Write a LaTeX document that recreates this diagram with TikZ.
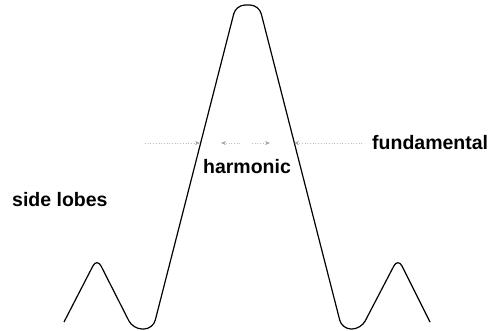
\documentclass[tikz,border=0pt]{standalone}
\usepackage{fontspec}
\setmainfont{Liberation Sans}
\usetikzlibrary{arrows.meta}
\begin{document}
\begin{tikzpicture}[x=1pt,y=-1pt,
  curve/.style={line width=1.2pt, rounded corners=9pt},
  lbl/.style={font=\fontsize{19.5}{22}\selectfont\bfseries, inner sep=0pt},
  faint/.style={gray!50, dotted, line width=0.7pt, -{Stealth[length=5pt,width=4pt,gray!70]}}]
\useasboundingbox (0,0) rectangle (495,330);
\draw[curve] (64,322) -- (97,258) -- (133,329) -- (153,329) -- (236,5) -- (259,5) -- (342,329) -- (361,329) -- (398,258) -- (430,322);
\node[lbl, anchor=west] (fund) at (372,143) {fundamental};
\node[lbl] (harm) at (247,167) {harmonic};
\node[lbl, anchor=west] (side) at (12,200) {side lobes};
\coordinate (la) at (145,143);
\coordinate (lb) at (200,143);
\coordinate (ra) at (362,143);
\coordinate (rb) at (294,143);
\coordinate (c1) at (240,143);
\coordinate (c2) at (221,143);
\coordinate (c3) at (252,143);
\coordinate (c4) at (270,143);
\draw[faint] (la) -- (lb);
\draw[faint] (ra) -- (rb);
\draw[faint] (c1) -- (c2);
\draw[faint] (c3) -- (c4);
\end{tikzpicture}
\end{document}
